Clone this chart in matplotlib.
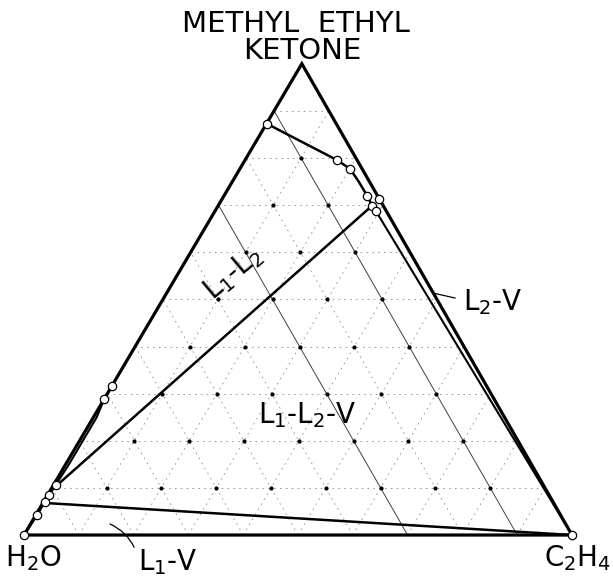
import numpy as np
import matplotlib.pyplot as plt

# drawing triangle: H2O at (0, 0), C2H4 at (1, 0), MEK at the apex
APEX_X, APEX_Y = 0.507, 0.86


def tern(mek, c2h4):
    mek = np.asarray(mek, dtype=float)
    c2h4 = np.asarray(c2h4, dtype=float)
    return c2h4 + APEX_X * mek, APEX_Y * mek


# weight fractions (MEK, C2H4); water is the balance
# MEK-rich liquid boundary, from the MEK-water side down to L2
upper_mek = [0.873, 0.796, 0.777, 0.7495, 0.720, 0.699]
upper_c2h4 = [0.000, 0.167, 0.201, 0.231, 0.261, 0.281]
upper_pts = [0, 1, 2, 4, 5]  # measured points (circles)

# points close to the MEK-C2H4 side near L2
right_mek = [0.713, 0.688]
right_c2h4 = [0.287, 0.293]

# water-rich liquid L1 along the H2O-MEK side
left_mek = [0.316, 0.289, 0.250, 0.150, 0.106, 0.085, 0.070, 0.0425, 0.0]
left_c2h4 = [0.000, 0.000, 0.006, 0.006, 0.004, 0.003, 0.002, 0.003, 0.0]
left_pts = [0, 1, 4, 5, 6, 7, 8]

# three-phase triangle L1 - L2 - V
l2_mek, l2_c2h4 = 0.699, 0.281
l1_mek, l1_c2h4 = 0.102, 0.005
l1v_mek, l1v_c2h4 = 0.068, 0.004
v_mek, v_c2h4 = 0.0, 1.0

grid_steps = np.arange(1, 10) / 10
solid_water = [0.1, 0.3]

fig = plt.figure(figsize=(6.13, 5.77), dpi=100)
ax = fig.add_axes([0, 0, 1, 1])
ax.set_xlim(-0.0438, 1.0748)
ax.set_ylim(-0.0766, 0.9763)
ax.axis('off')

faint = dict(color='0.55', lw=0.6, ls=(0, (2, 5)))
# grid: constant MEK, constant C2H4, constant water
for f in grid_steps:
    ax.plot(*tern([f, f], [0, 1 - f]), **faint)
    ax.plot(*tern([0, 1 - f], [f, f]), **faint)
    if any(abs(f - s) < 1e-9 for s in solid_water):
        ax.plot(*tern([0, 1 - f], [1 - f, 0]), color='0.25', lw=0.7)
    else:
        ax.plot(*tern([0, 1 - f], [1 - f, 0]), **faint)

# grid nodes
node_m, node_e = [], []
for i in range(1, 10):
    for j in range(1, 10 - i):
        node_m.append(i / 10)
        node_e.append(j / 10)
ax.plot(*tern(node_m, node_e), 'o', color='black', ms=2.0, ls='none')

# triangle outline
ax.plot(*tern([0, 0, 1, 0], [0, 1, 0, 0]), color='black', lw=2.3,
        solid_joinstyle='miter')

# phase boundaries
ax.plot(*tern(upper_mek, upper_c2h4), color='black', lw=1.8)
ax.plot(*tern([l2_mek, l1_mek], [l2_c2h4, l1_c2h4]), color='black', lw=1.8)
ax.plot(*tern([l1v_mek, v_mek], [l1v_c2h4, v_c2h4]), color='black', lw=1.8)
ax.plot(*tern([l2_mek, right_mek[1], v_mek], [l2_c2h4, right_c2h4[1], v_c2h4]),
        color='black', lw=1.5)
ax.plot(*tern(left_mek[1:], left_c2h4[1:]), color='black', lw=1.5)

# measured compositions
circ = dict(marker='o', ms=6, mfc='white', mec='black', mew=0.9, ls='none', zorder=5)
ax.plot(*tern([upper_mek[k] for k in upper_pts], [upper_c2h4[k] for k in upper_pts]), **circ)
ax.plot(*tern(right_mek, right_c2h4), **circ)
ax.plot(*tern([left_mek[k] for k in left_pts], [left_c2h4[k] for k in left_pts]), **circ)
ax.plot(*tern([v_mek], [v_c2h4]), **circ)

# labels
fs = 20
ax.text(0.4964, 0.9325, 'METHYL  ETHYL', ha='center', va='center', fontsize=21)
ax.text(0.5073, 0.8832, 'KETONE', ha='center', va='center', fontsize=21)
ax.text(0.0164, -0.042, r'H$_\mathregular{2}$O', ha='center', va='center', fontsize=fs)
ax.text(1.011, -0.042, r'C$_\mathregular{2}$H$_\mathregular{4}$', ha='center', va='center', fontsize=fs)
ax.text(0.5164, 0.219, r'L$_\mathregular{1}$-L$_\mathregular{2}$-V', ha='center', va='center', fontsize=fs)
ax.text(0.3814, 0.478, r'L$_\mathregular{1}$-L$_\mathregular{2}$', ha='center', va='center',
        fontsize=fs, rotation=40)
ax.text(0.801, 0.4252, r'L$_\mathregular{2}$-V', ha='left', va='center', fontsize=fs)
ax.plot([0.7464, 0.7865], [0.4416, 0.4325], color='black', lw=0.9)
ax.annotate(r'L$_\mathregular{1}$-V', xy=(0.157, 0.0201), xytext=(0.208, -0.0493),
            ha='left', va='center', fontsize=fs,
            arrowprops=dict(arrowstyle='-', lw=0.9, color='black',
                            shrinkA=2, shrinkB=0, connectionstyle='arc3,rad=0.25',
                            relpos=(0, 0.6)))

fig.savefig('out.png', dpi=100)
